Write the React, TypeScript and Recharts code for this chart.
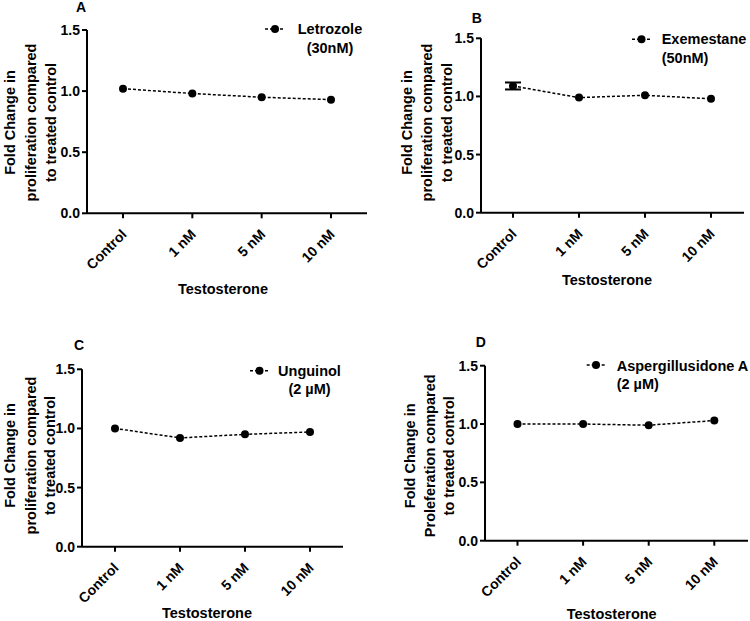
import React from 'react';
import { LineChart, Line, XAxis, YAxis, ErrorBar, Legend } from 'recharts';

// ---------- data ----------
const categories = ['Control', '1 nM', '5 nM', '10 nM'];
const letrozole = [1.02, 0.98, 0.95, 0.93];
const exemestane = [1.09, 0.99, 1.01, 0.98];
const exemestaneErr: (number | null)[] = [0.03, null, null, null];
const unguinol = [1.0, 0.92, 0.95, 0.97];
const aspergillusidone = [1.0, 1.0, 0.99, 1.03];
const yTicks = [0, 0.5, 1.0, 1.5];
const xTitle = 'Testosterone';
const legendA = ['Letrozole', '(30nM)'];
const legendB = ['Exemestane', '(50nM)'];
const legendC = ['Unguinol', '(2 \u00B5M)'];
const legendD = ['Aspergillusidone A', '(2 \u00B5M)'];
const yTitleStd = ['Fold Change in', 'proliferation compared', 'to treated control'];
const yTitleD = ['Fold Change in', 'Proleferation compared', 'to treated control'];

const FONT = '"Liberation Sans", Arial, Helvetica, sans-serif';

type Panel = {
  letter: string;
  values: number[];
  errors?: (number | null)[];
  legend: string[];
  yTitle: string[];
  box: { left: number; top: number; w: number; h: number };
  margin: { top: number; right: number; bottom: number; left: number };
  pad: { left: number; right: number };
  letterPos: [number, number];
  yTitleX: number[];
  yTitleCY: number;
  xTitlePos: [number, number];
  leg: { x1: number; x2: number; mx: number; my: number; tx: number; anchor: 'start' | 'middle'; b1: number; b2: number };
};

const YW = 60;
const XH = 60;

const panels: Panel[] = [
  {
    letter: 'A', values: letrozole, legend: legendA, yTitle: yTitleStd,
    box: { left: 0, top: 0, w: 375, h: 300 },
    margin: { top: 30, right: 8, bottom: 300 - 213.3 - XH, left: 87 - YW },
    pad: { left: 36, right: 36 },
    letterPos: [81, 12], yTitleX: [15, 36, 56], yTitleCY: 122.5, xTitlePos: [223, 294],
    leg: { x1: 265, x2: 285, mx: 275, my: 29, tx: 330, anchor: 'middle', b1: 34, b2: 53 },
  },
  {
    letter: 'B', values: exemestane, errors: exemestaneErr, legend: legendB, yTitle: yTitleStd,
    box: { left: 375, top: 0, w: 375, h: 300 },
    margin: { top: 38.3, right: 6, bottom: 300 - 212.7 - XH, left: 106 - YW },
    pad: { left: 32, right: 33 },
    letterPos: [101.7, 22.7], yTitleX: [36.7, 57.3, 77.3], yTitleCY: 122.5, xTitlePos: [232, 285],
    leg: { x1: 257, x2: 276, mx: 266.5, my: 39.3, tx: 286.7, anchor: 'start', b1: 44.3, b2: 63 },
  },
  {
    letter: 'C', values: unguinol, legend: legendC, yTitle: yTitleStd,
    box: { left: 0, top: 300, w: 375, h: 321 },
    margin: { top: 69.3, right: 32, bottom: 321 - 246.7 - XH, left: 82 - YW },
    pad: { left: 33, right: 33 },
    letterPos: [79, 50], yTitleX: [14.5, 35.5, 55], yTitleCY: 155.5, xTitlePos: [207, 318],
    leg: { x1: 250, x2: 269, mx: 259.5, my: 70.7, tx: 309.5, anchor: 'middle', b1: 75.5, b2: 94 },
  },
  {
    letter: 'D', values: aspergillusidone, legend: legendD, yTitle: yTitleD,
    box: { left: 375, top: 300, w: 375, h: 321 },
    margin: { top: 65.7, right: 2, bottom: 321 - 240.7 - XH, left: 110 - YW },
    pad: { left: 32.5, right: 33.7 },
    letterPos: [105.8, 47.3], yTitleX: [40, 60, 79], yTitleCY: 155.8, xTitlePos: [236.7, 319],
    leg: { x1: 211.7, x2: 230, mx: 221, my: 65, tx: 241.7, anchor: 'start', b1: 70.5, b2: 89 },
  },
];

const textStyle = { fontFamily: FONT, fontWeight: 700 as const, fill: '#000' };

const XTick = (props: any) => {
  const { x, y, payload } = props;
  const ex = x + 4.5;
  const ey = y + 17;
  return (
    <text x={ex} y={ey} textAnchor="end" transform={`rotate(-45, ${ex}, ${ey})`} fontSize={14} {...textStyle}>
      {payload.value}
    </text>
  );
};

function PanelChart({ p }: { p: Panel }) {
  const data = categories.map((c, i) => ({
    cat: c,
    value: p.values[i],
    err: p.errors ? p.errors[i] : null,
  }));
  const yLabel = () => (
    <g>
      <text x={p.letterPos[0]} y={p.letterPos[1]} textAnchor="middle" fontSize={14} {...textStyle}>{p.letter}</text>
      {p.yTitle.map((t, i) => (
        <text key={i} x={p.yTitleX[i]} y={p.yTitleCY} textAnchor="middle" fontSize={14.5}
          transform={`rotate(-90, ${p.yTitleX[i]}, ${p.yTitleCY})`} {...textStyle}>{t}</text>
      ))}
    </g>
  );
  const xLabel = () => (
    <text x={p.xTitlePos[0]} y={p.xTitlePos[1]} textAnchor="middle" fontSize={14.5} {...textStyle}>{xTitle}</text>
  );
  const legendContent = () => (
    <svg width={p.box.w} height={p.box.h} style={{ position: 'absolute', left: 0, top: 0, overflow: 'visible' }}>
      <line x1={p.leg.x1} x2={p.leg.x2} y1={p.leg.my} y2={p.leg.my} stroke="#000" strokeWidth={1.5} strokeDasharray="3 2" />
      <circle cx={p.leg.mx} cy={p.leg.my} r={4} fill="#000" />
      <text x={p.leg.tx} y={p.leg.b1} textAnchor={p.leg.anchor} fontSize={14.5} {...textStyle}>{p.legend[0]}</text>
      <text x={p.leg.tx} y={p.leg.b2} textAnchor={p.leg.anchor} fontSize={14.5} {...textStyle}>{p.legend[1]}</text>
    </svg>
  );
  return (
    <div style={{ position: 'absolute', left: p.box.left, top: p.box.top, width: p.box.w, height: p.box.h }}>
      <LineChart width={p.box.w} height={p.box.h} data={data} margin={p.margin}>
        <XAxis
          dataKey="cat"
          type="category"
          height={XH}
          padding={p.pad}
          interval={0}
          tickSize={5}
          tickMargin={0}
          axisLine={{ stroke: '#000', strokeWidth: 2 }}
          tickLine={{ stroke: '#000', strokeWidth: 2 }}
          tick={<XTick />}
          label={{ content: xLabel }}
        />
        <YAxis
          type="number"
          width={YW}
          domain={[0, 1.5]}
          ticks={yTicks}
          interval={0}
          tickSize={5}
          tickMargin={2}
          tickFormatter={(v: number) => v.toFixed(1)}
          axisLine={{ stroke: '#000', strokeWidth: 2 }}
          tickLine={{ stroke: '#000', strokeWidth: 2 }}
          tick={{ fontSize: 14, fontFamily: FONT, fontWeight: 700, fill: '#000' }}
          label={{ content: yLabel }}
        />
        <Legend
          layout="vertical"
          align="center"
          verticalAlign="middle"
          content={legendContent}
          wrapperStyle={{ left: 0, top: 0, width: p.box.w, height: p.box.h, pointerEvents: 'none' }}
        />
        <Line
          type="linear"
          dataKey="value"
          name={p.legend.join(' ')}
          stroke="#000"
          strokeWidth={1.5}
          strokeDasharray="3 2"
          dot={{ r: 4, fill: '#000', stroke: '#000', strokeWidth: 0 }}
          activeDot={false}
          isAnimationActive={false}
        >
          {p.errors ? (
            <ErrorBar dataKey="err" direction="y" width={8} strokeWidth={2} stroke="#000" />
          ) : null}
        </Line>
      </LineChart>
    </div>
  );
}

export default function App() {
  return (
    <div style={{ position: 'absolute', left: 0, top: 0, width: 750, height: 621, background: '#fff', overflow: 'hidden' }}>
      {panels.map((p) => (
        <PanelChart key={p.letter} p={p} />
      ))}
    </div>
  );
}
